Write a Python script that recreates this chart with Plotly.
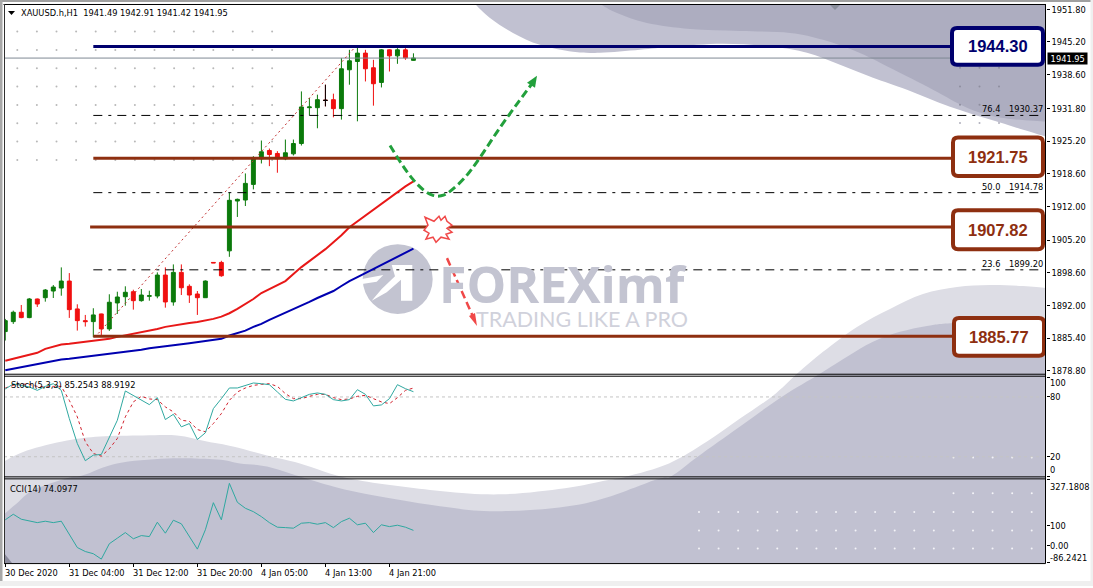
import plotly.graph_objects as go

W, H = 1093, 588
opens = [1886.73,1888.74,1890.63,1889.55,1893.31,1893.57,1894.92,1895.52,1896.93,1891.30,1888.94,1888.74,1890.29,1887.27,1892.51,1893.77,1894.78,1892.97,1893.85,1893.91,1898.14,1892.71,1898.68,1895.87,1894.32,1893.57,1900.69,1900.69,1903.03,1913.09,1913.29,1916.45,1921.62,1923.29,1922.69,1921.62,1922.62,1924.70,1931.94,1931.94,1933.41,1933.55,1931.74,1939.59,1941.26,1942.95,1939.99,1937.03,1943.61,1942.40,1943.61,1941.49]
highs = [1889.29,1890.96,1892.10,1893.51,1893.40,1895.32,1896.13,1899.69,1898.54,1892.24,1890.09,1891.44,1890.35,1894.26,1894.78,1895.87,1895.18,1895.32,1894.98,1898.68,1899.69,1900.29,1900.29,1896.27,1894.92,1897.07,1900.69,1901.02,1914.78,1913.57,1918.66,1922.14,1925.30,1923.69,1923.15,1925.50,1925.50,1935.22,1933.89,1934.56,1936.57,1934.76,1941.94,1943.61,1944.15,1943.61,1941.60,1943.75,1943.70,1943.95,1943.95,1942.91]
lows = [1884.92,1888.28,1889.43,1889.43,1891.70,1892.77,1893.51,1893.97,1889.49,1886.93,1887.74,1885.60,1885.93,1886.87,1890.29,1891.96,1891.16,1892.77,1892.97,1893.45,1891.56,1891.96,1894.11,1892.51,1890.09,1893.57,1900.60,1897.80,1901.82,1909.87,1912.08,1915.44,1920.67,1920.13,1918.80,1921.34,1922.28,1924.29,1930.39,1927.78,1932.20,1929.99,1929.53,1936.57,1929.18,1937.23,1932.34,1936.02,1939.24,1940.79,1941.60,1941.42]
closes = [1888.94,1890.63,1889.55,1893.31,1892.30,1895.12,1895.72,1896.93,1891.16,1888.94,1888.74,1890.09,1887.27,1892.65,1893.71,1894.66,1892.97,1894.11,1893.97,1898.14,1892.71,1898.68,1895.58,1894.11,1893.57,1896.93,1900.60,1898.00,1913.23,1913.43,1916.65,1921.62,1923.03,1922.48,1921.62,1922.83,1924.70,1932.08,1932.08,1933.55,1933.41,1931.74,1939.79,1941.40,1942.95,1939.79,1936.77,1943.61,1942.40,1943.61,1942.00,1941.95]
ma_red = [1880.84,1881.24,1881.54,1881.90,1882.45,1883.25,1883.65,1884.12,1884.26,1884.46,1884.60,1884.86,1885.06,1885.26,1885.66,1885.97,1886.27,1886.57,1886.97,1887.27,1887.68,1887.98,1888.28,1888.48,1888.68,1888.94,1889.29,1889.75,1890.43,1891.30,1892.30,1893.31,1894.52,1895.32,1896.13,1896.93,1898.34,1899.75,1900.96,1902.16,1903.37,1904.78,1906.19,1907.80,1909.00,1910.11,1911.22,1912.42,1913.63,1914.84,1916.05,1917.05]
ma_blue = [1878.92,1879.23,1879.53,1879.83,1880.13,1880.43,1880.84,1881.10,1881.24,1881.44,1881.64,1881.78,1881.94,1882.10,1882.34,1882.65,1882.85,1883.05,1883.35,1883.59,1883.75,1883.95,1884.16,1884.36,1884.60,1884.76,1885.00,1885.26,1885.93,1886.47,1886.93,1887.68,1888.28,1889.08,1889.79,1890.49,1891.20,1891.90,1892.71,1893.51,1894.22,1894.92,1895.93,1896.93,1897.74,1898.54,1899.35,1900.15,1900.96,1901.76,1902.57,1903.47]
stoch_main = [88,93,91.6,90,86.6,90.6,93.3,86.6,58.3,33.3,16,21.6,22.3,40,56.6,86,81.6,77.3,72.3,79.3,57.3,62.6,50,53.3,37.3,44,68.3,78.3,89,89,91.6,94,93.3,92.3,85,77.6,76,79.3,82.6,84,82.6,77.3,76,77.3,87.3,82.6,71,72,78.3,92.3,88.3,85.25]
stoch_signal = [89,91.6,93,92.6,90.6,90,90.6,90.6,76.6,60,35,23.3,20.6,28,38.3,60,75,80.6,78,77.3,70,65,56.6,55.6,47.3,45,53.3,63.3,76.6,85,89,91.6,92.6,93.3,90.6,83.3,78.3,78.3,80.6,82.6,82.6,79.3,77.3,78,80.6,81.6,78.3,75,73.3,79.3,86.6,88.92]
cci_values = [127,155,130,123,113,120,113,120,57,-12,-32,-43,-70,7,35,63,32,48,43,115,60,125,107,40,-20,77,213,127,310,215,185,168,143,113,90,88,85,110,113,105,113,88,118,135,102,110,63,102,93,100,90,74.1]
price_ticks = [1951.80,1945.20,1938.60,1931.80,1925.20,1918.60,1912.00,1905.20,1898.60,1892.00,1885.40,1878.80]
time_ticks = [0,8,16,24,32,40,48]
time_labels = ["30 Dec 2020","31 Dec 04:00","31 Dec 12:00","31 Dec 20:00","4 Jan 05:00","4 Jan 13:00","4 Jan 21:00"]
levels_navy = [1944.30]
levels_brown = [1921.75,1907.82,1885.77]
fib_prices = [1930.37,1914.78,1899.20]
fib_labels = ["76.4","50.0","23.6"]
last_price = 1941.95
stoch_levels = [20,80]
stoch_tick_vals = [100,80,20,0]
cci_tick_vals = [327.1808,100,0,-86.2421]
cci_tick_text = ["327.1808","100","0.00","-86.2421"]

FONT = "DejaVu Sans Condensed, Tahoma, Arial, sans-serif"
FS = 9.2
BROWN = "#8E2F10"
NAVY = "#00006E"
DARK = "#C1C1D1"
LIGHT = "#DDDDE5"
TOPDARK = "#ADADC0"
MARK = "#C3C4D1"

def px(x): return x / W
def py(y): return 1 - y / H
def pt(p): return f"{px(p[0]):.5f},{py(p[1]):.5f}"

def smooth(points):
    d = ""
    n = len(points)
    for i in range(n - 1):
        p0 = points[max(i - 1, 0)]; p1 = points[i]; p2 = points[i + 1]; p3 = points[min(i + 2, n - 1)]
        c1 = (p1[0] + (p2[0] - p0[0]) / 6, p1[1] + (p2[1] - p0[1]) / 6)
        c2 = (p2[0] - (p3[0] - p1[0]) / 6, p2[1] - (p3[1] - p1[1]) / 6)
        d += f" C {pt(c1)} {pt(c2)} {pt(p2)}"
    return d

def blob(curve, closing, color):
    d = "M " + pt(curve[0]) + smooth(curve)
    for p in closing:
        d += " L " + pt(p)
    d += " Z"
    return dict(type="path", xref="paper", yref="paper", path=d, fillcolor=color, line=dict(width=0), layer="below")

def poly(points, color, layer="below", line=None):
    d = "M " + " L ".join(pt(p) for p in points) + " Z"
    return dict(type="path", xref="paper", yref="paper", path=d, fillcolor=color, line=line or dict(width=0), layer=layer)

def rect(x0, y0, x1, y1, color, layer="below"):
    return dict(type="rect", xref="paper", yref="paper", x0=px(x0), x1=px(x1), y0=py(y1), y1=py(y0), fillcolor=color, line=dict(width=0), layer=layer)

def seg(x0, y0, x1, y1, color, width=1, layer="above"):
    return dict(type="line", xref="paper", yref="paper", x0=px(x0), x1=px(x1), y0=py(y0), y1=py(y1), line=dict(color=color, width=width), layer=layer)

def dot(x, y, color, r=1.0):
    return dict(type="circle", xref="paper", yref="paper", x0=px(x - r), x1=px(x + r), y0=py(y + r), y1=py(y - r), fillcolor=color, line=dict(width=0), layer="below")

def rounded(x0, y0, x1, y1, color):
    r = 5
    d = (f"M {pt((x0+r,y0))} L {pt((x1-r,y0))} Q {pt((x1,y0))} {pt((x1,y0+r))} L {pt((x1,y1-r))} Q {pt((x1,y1))} {pt((x1-r,y1))} "
         f"L {pt((x0+r,y1))} Q {pt((x0,y1))} {pt((x0,y1-r))} L {pt((x0,y0+r))} Q {pt((x0,y0))} {pt((x0+r,y0))} Z")
    return dict(type="path", xref="paper", yref="paper", path=d, fillcolor="white", line=dict(color=color, width=4), layer="above")

shapes = []
shapes.append(blob([(475,4),(490,18),(513,33),(540,45),(573,52),(600,53),(640,50),(673,47),(723,44),(773,47),(807,53),(840,65),(873,78),(907,90),(950,107),(1000,123),(1045.5,137)], [(1045.5,4)], DARK))
shapes.append(blob([(600,4),(617,13),(647,23),(690,29),(740,31),(790,33),(823,40),(857,52),(890,68),(933,90),(967,108),(1000,118),(1045.5,122)], [(1045.5,4)], TOPDARK))
light_curve = [(4,463),(27,452),(67,442),(100,438),(143,437),(177,437),(207,443),(233,448),(267,457),(300,465),(353,481),(440,492.7),(502,496),(565,490),(607,482),(627,478),(669,465),(707,443),(740,420),(773,397),(797,375),(823,353),(857,328),(890,310),(923,295),(957,288),(990,286),(1023,287),(1045.5,289)]
shapes.append(blob(light_curve, [(1045.5,565),(4,565)], LIGHT))
dark_curve = [(4,516),(17,505),(33,492),(67,480),(83,477),(117,465),(167,460),(217,461),(240,465),(267,468),(300,478),(353,493),(440,508),(502,513),(586,505),(657,481),(671,478),(698,458),(740,428),(782,398),(820,375),(847,358),(873,343),(900,333),(927,327),(957,324),(1045.5,322)]
shapes.append(blob(dark_curve, [(1045.5,565),(4,565)], DARK))
shapes.append(poly([(4,555),(12,565),(4,565)], "#8A8A9C"))
shapes.append(poly([(829,4),(841,4),(835,10)], "#8A8F9C"))
for r in range(8):
    for c in range(14):
        shapes.append(dot(17.3 + 19.6 * c, 31.7 + 18.4 * r, "#B8B8B8"))
for yy in (68, 86.7, 105, 123.5):
    for xx in (960, 979.5, 999):
        shapes.append(dot(xx, yy, "#8E8E9E" if yy < 110 else "#B0B0BC"))
for yy in (513.7, 532.3, 550.3):
    for c in range(18):
        shapes.append(dot(699 + 19.57 * c, yy, "#F4F4F8"))
for yy in (459, 495):
    for c in range(5):
        shapes.append(dot(953.5 + 19.57 * c, yy, "#F4F4F8"))
shapes.append(dict(type="circle", xref="paper", yref="paper", x0=px(362.7), x1=px(432.7), y0=py(315), y1=py(245), fillcolor=MARK, line=dict(width=0), layer="below"))
shapes.append(poly([(391.7,266),(412.3,266),(412.3,301.7),(401,301.7),(401,280.7),(386.7,293.3),(371.7,301.7),(381.7,290),(395,277.3)], "white"))
shapes.append(poly([(362,280),(383.3,276),(376.7,282.7),(362,285)], "white"))
curve = [(390,146),(402,165),(413,180),(424,191),(433,196),(441,196.5),(450,192),(465,178),(480,158),(500,128),(518,103),(532,84)]
shapes.append(dict(type="path", xref="paper", yref="paper", path="M " + pt(curve[0]) + smooth(curve), line=dict(color="#22A03C", width=3, dash="8px,4px"), layer="above"))
shapes.append(poly([(537,76),(535,88),(527,83)], "#22A03C", "above"))
shapes.append(seg(447,259,474,320,"#F04848",2.5))
shapes[-1]["line"]["dash"] = "8px,4px"
shapes.append(poly([(477,327),(469,317),(475,314)], "#F04848", "above"))
shapes.append(poly([(425,218),(434,222),(439,217),(441,221),(445,217),(447,222),(452,226),(447,229),(452,233),(446,235),(449,240),(441,238),(436,243),(433,238),(426,240),(429,234),(424,231),(428,226)], "white", "above", dict(color="#F04848", width=1.5)))
boxes = [(952,28,1043,65,NAVY,"1944.30"),(953,138,1043,176.5,BROWN,"1921.75"),(953,211,1043,250,BROWN,"1907.82"),(954,319,1044,357,BROWN,"1885.77")]
for x0,y0,x1,y1,c,_ in boxes:
    shapes.append(rounded(x0,y0,x1,y1,c))
shapes += [rect(0,0,W,2,"#A0A0A0","above"), rect(0,0,2.5,H,"#A8A8A8","above"), rect(0,583,W,H,"#EFEFEF","above"), rect(1090.5,0,W,H,"#EFEFEF","above")]
shapes += [seg(3.5,4.5,1045.5,4.5,"black",1), seg(4.5,4,4.5,565,"#303030",1), seg(1045.5,4,1045.5,565.5,"black",1),
           seg(4,375.5,1045.5,375.5,"black",1), seg(4,377.5,1045.5,377.5,"black",1), seg(4,478.5,1045.5,478.5,"black",1), seg(4,480.5,1045.5,480.5,"black",1), seg(4,565.5,1045.5,565.5,"black",1)]

def txt(x, y, s, size=FS, color="black", anchor="left", xref="paper", yref="paper", font=FONT, **kw):
    return dict(x=px(x) if xref == "paper" else x, y=py(y) if yref == "paper" else y, text=s, xref=xref, yref=yref, xanchor=anchor, yanchor="middle",
                showarrow=False, font=dict(family=font, size=size, color=color), borderpad=0, **kw)

ann = []
ann.append(txt(20, 12.5, "XAUUSD.h,H1&nbsp;&nbsp;1941.49 1942.91 1941.42 1941.95"))
shapes.append(poly([(8,11),(15,11),(11.5,15)], "black", "above"))
ann.append(txt(10, 386, "Stoch(5,3,3) 85.2543 88.9192"))
ann.append(txt(9, 490, "CCI(14) 74.0977"))
for x0,y0,x1,y1,c,s in boxes:
    ann.append(txt((x0+x1)/2, (y0+y1)/2, f"<b>{s}</b>", 16.5, c, "center", font="Liberation Sans, Arial, sans-serif"))
ann.append(txt(438, 285, "<b>FOREXimf</b>", 50, MARK, font="Open Sans, sans-serif"))
ann.append(txt(475, 320, "TRADING LIKE A PRO", 21.5, "#D0D1DB", font="Lato, sans-serif"))
for p, lab in zip(fib_prices, fib_labels):
    ann.append(dict(x=px(1044), y=p, xref="paper", yref="y", text=f"{p:.2f}", showarrow=False, xanchor="right", yanchor="bottom", font=dict(family=FONT, size=FS, color="black"), borderpad=0))
    ann.append(dict(x=px(1001), y=p, xref="paper", yref="y", text=lab, showarrow=False, xanchor="right", yanchor="bottom", font=dict(family=FONT, size=FS, color="black"), borderpad=0))
ann.append(dict(x=px(1047), y=last_price, xref="paper", yref="y", text=f"&nbsp;{last_price:.2f}&nbsp;", showarrow=False, xanchor="left", yanchor="middle", bgcolor="black", font=dict(family=FONT, size=FS, color="white"), borderpad=0))
stoch_label_y = {100: 384, 80: 398.3, 20: 458.3, 0: 471.5}
for v in stoch_tick_vals:
    ann.append(txt(1049, stoch_label_y[v], str(v)))
cci_label_y = [488, 527, 547, 559]
for yy, s in zip(cci_label_y, cci_tick_text):
    ann.append(txt(1049, yy, s))
for i, s in zip(time_ticks, time_labels):
    ann.append(dict(x=i, y=py(574), xref="x", yref="paper", text=s, showarrow=False, xanchor="left", xshift=-1, yanchor="middle", font=dict(family=FONT, size=FS, color="black"), borderpad=0))

x_idx = list(range(len(closes)))
XMAX = 130.0
fig = go.Figure()
fig.add_trace(go.Candlestick(x=x_idx, open=opens, high=highs, low=lows, close=closes, xaxis="x", yaxis="y",
    increasing=dict(line=dict(color="#0B7A0B", width=1), fillcolor="#0B7A0B"),
    decreasing=dict(line=dict(color="#F01010", width=1), fillcolor="#F01010"), whiskerwidth=0, showlegend=False, hoverinfo="skip"))
fig.add_trace(go.Candlestick(x=x_idx[40:41], open=opens[40:41], high=highs[40:41], low=lows[40:41], close=closes[40:41], xaxis="x", yaxis="y",
    increasing=dict(line=dict(color="black", width=1), fillcolor="black"),
    decreasing=dict(line=dict(color="black", width=1), fillcolor="black"), whiskerwidth=0, showlegend=False, hoverinfo="skip"))

def line(x, y, color, width=1, dash=None, axis="y"):
    fig.add_trace(go.Scatter(x=x, y=y, mode="lines", xaxis="x", yaxis=axis, showlegend=False, hoverinfo="skip",
                             line=dict(color=color, width=width, dash=dash)))

line([-0.16, XMAX], [last_price, last_price], "#7F8894", 1)
line([11.2, 43.7], [lows[11], highs[44]], "#C03030", 1, "2px,3px")
for p in fib_prices:
    line([11, 129.3], [p, p], "black", 1, "9px,6px,3px,6px")
line(x_idx, ma_red, "#E81818", 2)
line(x_idx, ma_blue, "#0000B0", 2)
line([11, 119], [levels_navy[0]] * 2, NAVY, 3)
line([11, 119], [levels_brown[0]] * 2, BROWN, 3)
line([10.6, 119], [levels_brown[1]] * 2, BROWN, 3)
line([11, 119], [levels_brown[2]] * 2, BROWN, 3)
for lv in stoch_levels:
    line([-0.16, XMAX], [lv, lv], "#C4C4C4", 1, "3px,3px", "y2")
line(x_idx, stoch_signal, "#D0202C", 1, "3px,3px", "y2")
line(x_idx, stoch_main, "#2FA8A0", 1, None, "y2")
line(x_idx, cci_values, "#2FA8A0", 1, None, "y3")

axis_font = dict(family=FONT, size=FS, color="black")
fig.update_layout(
    width=W, height=H, margin=dict(l=0, r=0, t=0, b=0), paper_bgcolor="white", plot_bgcolor="rgba(0,0,0,0)",
    showlegend=False, shapes=shapes, annotations=ann, hovermode=False,
    xaxis=dict(domain=[px(4), px(1045.7)], range=[-0.16, XMAX], anchor="y3", rangeslider=dict(visible=False), showgrid=False, zeroline=False,
               tickmode="array", tickvals=time_ticks, ticktext=[""] * len(time_ticks), ticks="outside", ticklen=3, tickcolor="black"),
    yaxis=dict(domain=[py(375.3), py(4)], range=[1878.16, 1952.87], side="right", anchor="free", position=px(1045.7), showgrid=False, zeroline=False,
               tickmode="array", tickvals=price_ticks, ticktext=[f"{v:.2f}" for v in price_ticks], ticks="outside", ticklen=3, tickcolor="black", tickfont=axis_font),
    yaxis2=dict(domain=[py(478.3), py(378.3)], range=[0, 100], side="right", anchor="free", position=px(1045.7), showgrid=False, zeroline=False,
                tickmode="array", tickvals=stoch_tick_vals, ticktext=[""] * 4, ticks="outside", ticklen=3, tickcolor="black"),
    yaxis3=dict(domain=[py(565), py(480)], range=[-90, 335], side="right", anchor="free", position=px(1045.7), showgrid=False, zeroline=False,
                tickmode="array", tickvals=cci_tick_vals, ticktext=[""] * 4, ticks="outside", ticklen=3, tickcolor="black"),
)
fig.write_html("out.html", config={"displayModeBar": False}, post_script="document.body.style.margin='0';document.documentElement.style.overflow='hidden';")
